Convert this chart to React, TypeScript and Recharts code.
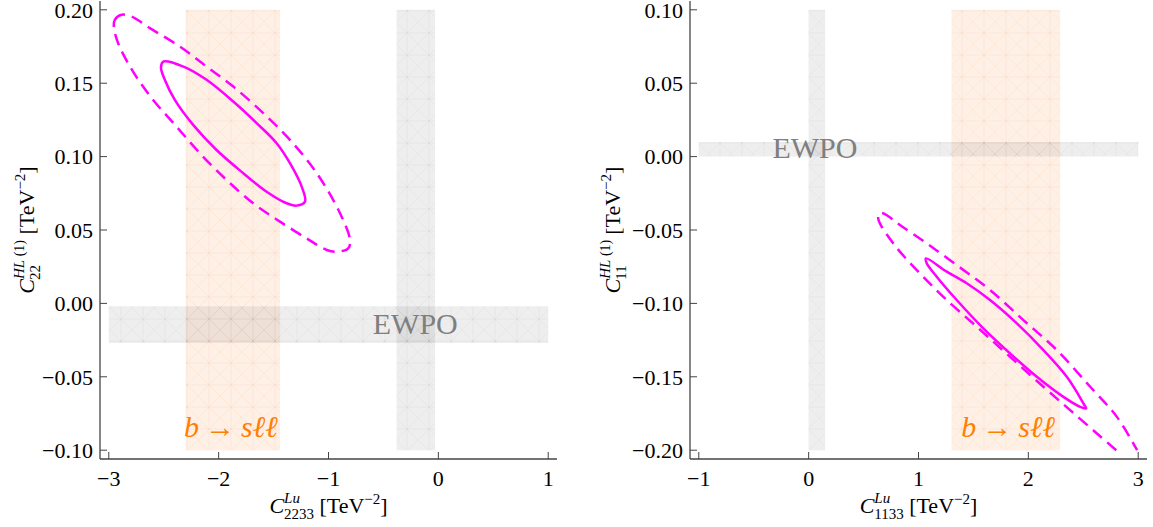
import React from 'react'
import {
  ComposedChart,
  XAxis,
  YAxis,
  Line,
  ReferenceArea,
  ReferenceDot,
  Label,
} from 'recharts'

type Pt = { x: number; y: number }

// left panel: C^{Lu}_{2233} vs C^{HL(1)}_{22}
const leftSolid: Pt[] = [
  { x: -2.5, y: 0.1648 },
  { x: -2.32, y: 0.1613 },
  { x: -2.11, y: 0.1523 },
  { x: -1.867, y: 0.1375 },
  { x: -1.654, y: 0.1228 },
  { x: -1.472, y: 0.1091 },
  { x: -1.351, y: 0.0955 },
  { x: -1.244, y: 0.0795 },
  { x: -1.214, y: 0.0693 },
  { x: -1.29, y: 0.0666 },
  { x: -1.381, y: 0.0682 },
  { x: -1.563, y: 0.0761 },
  { x: -1.776, y: 0.0887 },
  { x: -2.019, y: 0.1045 },
  { x: -2.232, y: 0.1216 },
  { x: -2.399, y: 0.1386 },
  { x: -2.49, y: 0.1523 },
  { x: -2.525, y: 0.161 },
]

const leftDashed: Pt[] = [
  { x: -2.945, y: 0.1932 },
  { x: -2.884, y: 0.1966 },
  { x: -2.793, y: 0.1954 },
  { x: -2.626, y: 0.1875 },
  { x: -2.353, y: 0.175 },
  { x: -2.11, y: 0.1613 },
  { x: -1.867, y: 0.1477 },
  { x: -1.594, y: 0.1296 },
  { x: -1.351, y: 0.1114 },
  { x: -1.107, y: 0.0887 },
  { x: -0.895, y: 0.0614 },
  { x: -0.804, y: 0.0432 },
  { x: -0.82, y: 0.0375 },
  { x: -0.925, y: 0.0352 },
  { x: -1.016, y: 0.0364 },
  { x: -1.199, y: 0.0443 },
  { x: -1.442, y: 0.0557 },
  { x: -1.685, y: 0.0682 },
  { x: -1.928, y: 0.0841 },
  { x: -2.171, y: 0.1023 },
  { x: -2.383, y: 0.1204 },
  { x: -2.596, y: 0.1386 },
  { x: -2.779, y: 0.1579 },
  { x: -2.915, y: 0.1773 },
  { x: -2.954, y: 0.1886 },
]

// right panel: C^{Lu}_{1133} vs C^{HL(1)}_{11}
const rightSolid: Pt[] = [
  { x: 1.068, y: -0.0693 },
  { x: 1.257, y: -0.0784 },
  { x: 1.439, y: -0.0863 },
  { x: 1.651, y: -0.0977 },
  { x: 1.895, y: -0.1136 },
  { x: 2.137, y: -0.1318 },
  { x: 2.35, y: -0.15 },
  { x: 2.502, y: -0.1682 },
  { x: 2.526, y: -0.1716 },
  { x: 2.472, y: -0.1705 },
  { x: 2.319, y: -0.1637 },
  { x: 2.077, y: -0.15 },
  { x: 1.834, y: -0.1341 },
  { x: 1.59, y: -0.117 },
  { x: 1.348, y: -0.0977 },
  { x: 1.166, y: -0.0818 },
  { x: 1.075, y: -0.0727 },
]

// runs off the bottom of the frame, so it is an open curve
const rightDashed: Pt[] = [
  { x: 2.8, y: -0.2 },
  { x: 2.624, y: -0.1886 },
  { x: 2.38, y: -0.1727 },
  { x: 2.137, y: -0.1568 },
  { x: 1.834, y: -0.1364 },
  { x: 1.53, y: -0.1159 },
  { x: 1.226, y: -0.0955 },
  { x: 0.984, y: -0.0773 },
  { x: 0.77, y: -0.0591 },
  { x: 0.634, y: -0.0425 },
  { x: 0.645, y: -0.0385 },
  { x: 0.69, y: -0.039 },
  { x: 0.831, y: -0.0466 },
  { x: 1.075, y: -0.0591 },
  { x: 1.348, y: -0.0739 },
  { x: 1.651, y: -0.0909 },
  { x: 1.955, y: -0.1114 },
  { x: 2.259, y: -0.1318 },
  { x: 2.563, y: -0.1568 },
  { x: 2.806, y: -0.1773 },
  { x: 2.99, y: -0.2 },
]

// constraint bands: [x1, x2, y1, y2]
const leftBsll = [-2.3, -1.44, -0.1, 0.2]
const leftEwpoV = [-0.38, -0.03, -0.1, 0.2]
const leftEwpoH = [-3, 1, -0.027, -0.002]
const rightBsll = [1.3, 2.29, -0.2, 0.1]
const rightEwpoV = [0, 0.15, -0.2, 0.1]
const rightEwpoH = [-1, 3, 0, 0.01]

const leftXTicks = [-3, -2, -1, 0, 1]
const leftXMinor = [
  -3, -2.8, -2.6, -2.4, -2.2, -2, -1.8, -1.6, -1.4, -1.2, -1, -0.8, -0.6, -0.4,
  -0.2, 0, 0.2, 0.4, 0.6, 0.8, 1,
]
const leftYTicks = [-0.1, -0.05, 0, 0.05, 0.1, 0.15, 0.2]
const leftYMinor = [
  -0.1, -0.09, -0.08, -0.07, -0.06, -0.05, -0.04, -0.03, -0.02, -0.01, 0, 0.01,
  0.02, 0.03, 0.04, 0.05, 0.06, 0.07, 0.08, 0.09, 0.1, 0.11, 0.12, 0.13, 0.14,
  0.15, 0.16, 0.17, 0.18, 0.19, 0.2,
]
const rightXTicks = [-1, 0, 1, 2, 3]
const rightXMinor = [
  -1, -0.8, -0.6, -0.4, -0.2, 0, 0.2, 0.4, 0.6, 0.8, 1, 1.2, 1.4, 1.6, 1.8, 2,
  2.2, 2.4, 2.6, 2.8, 3,
]
const rightYTicks = [-0.2, -0.15, -0.1, -0.05, 0, 0.05, 0.1]
const rightYMinor = [
  -0.2, -0.19, -0.18, -0.17, -0.16, -0.15, -0.14, -0.13, -0.12, -0.11, -0.1,
  -0.09, -0.08, -0.07, -0.06, -0.05, -0.04, -0.03, -0.02, -0.01, 0, 0.01, 0.02,
  0.03, 0.04, 0.05, 0.06, 0.07, 0.08, 0.09, 0.1,
]

const SERIF = "'Liberation Serif', 'Times New Roman', serif"
const MAGENTA = '#ff00ff'
const FRAME = '#444444'
const H = 527

const fmtX = (v: number) => (v < 0 ? `\u2212${Math.abs(v)}` : `${v}`)
const fmtY = (v: number) =>
  Math.abs(v) < 1e-9 ? '0.00' : (v < 0 ? '\u2212' : '') + Math.abs(v).toFixed(2)

const XTick = (t: any) => (
  <text
    x={t.x}
    y={t.y}
    dy="0.71em"
    textAnchor="middle"
    fontFamily={SERIF}
    fontSize={22}
    fill="#000"
  >
    {fmtX(t.payload.value)}
  </text>
)

const YTick = (t: any) => (
  <text
    x={t.x}
    y={t.y}
    dy="0.355em"
    textAnchor="end"
    fontFamily={SERIF}
    fontSize={22}
    fill="#000"
  >
    {fmtY(t.payload.value)}
  </text>
)

// centripetal catmull-rom through the read-off points (same maths as d3's curveCatmullRom)
function seg(ctx: any, p0: number[], p1: number[], p2: number[], p3: number[]) {
  const d01 = Math.hypot(p1[0] - p0[0], p1[1] - p0[1])
  const d12 = Math.hypot(p2[0] - p1[0], p2[1] - p1[1])
  const d23 = Math.hypot(p3[0] - p2[0], p3[1] - p2[1])
  const l01 = Math.sqrt(d01)
  const l12 = Math.sqrt(d12)
  const l23 = Math.sqrt(d23)
  let c1x = p1[0]
  let c1y = p1[1]
  let c2x = p2[0]
  let c2y = p2[1]
  if (l01 > 1e-9) {
    const a = 2 * d01 + 3 * l01 * l12 + d12
    const n = 3 * l01 * (l01 + l12)
    c1x = (p1[0] * a - p0[0] * d12 + p2[0] * d01) / n
    c1y = (p1[1] * a - p0[1] * d12 + p2[1] * d01) / n
  }
  if (l23 > 1e-9) {
    const b = 2 * d23 + 3 * l23 * l12 + d12
    const m = 3 * l23 * (l23 + l12)
    c2x = (p2[0] * b + p1[0] * d23 - p3[0] * d12) / m
    c2y = (p2[1] * b + p1[1] * d23 - p3[1] * d12) / m
  }
  ctx.bezierCurveTo(c1x, c1y, c2x, c2y, p2[0], p2[1])
}

const spline = (closed: boolean) => (context: any) => {
  let pts: number[][] = []
  return {
    areaStart() {},
    areaEnd() {},
    lineStart() {
      pts = []
    },
    point(x: number, y: number) {
      pts.push([+x, +y])
    },
    lineEnd() {
      const n = pts.length
      if (!n) return
      const at = (i: number) =>
        closed ? pts[(i + n) % n] : pts[Math.max(0, Math.min(n - 1, i))]
      context.moveTo(pts[0][0], pts[0][1])
      const last = closed ? n : n - 1
      for (let i = 0; i < last; i++) seg(context, at(i - 1), at(i), at(i + 1), at(i + 2))
      if (closed) context.closePath()
    },
  }
}
const closedCurve = spline(true)
const openCurve = spline(false)

function XTitle({ viewBox, sub }: any) {
  const vb = viewBox || { x: 0, y: 0, width: 0 }
  return (
    <text
      x={vb.x + vb.width / 2}
      y={vb.y + 54}
      textAnchor="middle"
      fontFamily={SERIF}
      fontSize={22}
      fill="#000"
    >
      <tspan fontStyle="italic">C</tspan>
      <tspan fontStyle="italic" fontSize={15} dy={-10}>
        Lu
      </tspan>
      <tspan fontSize={15} dx={-16} dy={16}>
        {sub}
      </tspan>
      <tspan dy={-6}>{'\u00a0[TeV'}</tspan>
      <tspan fontSize={15} dy={-9}>
        {'\u22122'}
      </tspan>
      <tspan dy={9}>]</tspan>
    </text>
  )
}

function YTitle({ viewBox, sub, gap }: any) {
  const vb = viewBox || { x: 0, y: 0, width: 0, height: 0 }
  const x = vb.x + vb.width - gap
  const y = vb.y + vb.height / 2
  return (
    <text
      transform={`translate(${x},${y}) rotate(-90)`}
      textAnchor="middle"
      fontFamily={SERIF}
      fontSize={22}
      fill="#000"
    >
      <tspan fontStyle="italic">C</tspan>
      <tspan fontStyle="italic" fontSize={15} dy={-10}>
        HL
      </tspan>
      <tspan fontSize={14}>{'\u00a0(1)'}</tspan>
      <tspan fontSize={15} dx={-40} dy={16}>
        {sub}
      </tspan>
      <tspan dx={25} dy={-6}>
        {'\u00a0[TeV'}
      </tspan>
      <tspan fontSize={15} dy={-9}>
        {'\u22122'}
      </tspan>
      <tspan dy={9}>]</tspan>
    </text>
  )
}

const ewpoText = (p: any) => (
  <text
    x={p.cx}
    y={p.cy}
    textAnchor="middle"
    fontFamily={SERIF}
    fontSize={30}
    fill="#7f7f7f"
  >
    EWPO
  </text>
)

const bsllText = (p: any) => (
  <text
    x={p.cx}
    y={p.cy}
    textAnchor="middle"
    fontFamily={SERIF}
    fontSize={30}
    fill="#ff8000"
  >
    <tspan fontStyle="italic">b</tspan>
    <tspan>{'\u2009\u2192\u2009'}</tspan>
    <tspan fontStyle="italic">{'s\u2113\u2113'}</tspan>
  </text>
)

interface PanelProps {
  id: string
  width: number
  yAxisWidth: number
  marginRight: number
  yTitleGap: number
  xDomain: [number, number]
  yDomain: [number, number]
  xTicks: number[]
  xMinor: number[]
  yTicks: number[]
  yMinor: number[]
  bsll: number[]
  ewpoV: number[]
  ewpoH: number[]
  solid: Pt[]
  dashed: Pt[]
  dashedCurve: any
  xSub: string
  ySub: string
  ewpoAt: Pt
  bsllAt: Pt
}

const lineStyle = { stroke: FRAME, strokeWidth: 1 }
const frameStyle = { stroke: FRAME, strokeWidth: 1.3 }

function Panel(p: PanelProps) {
  const band = (b: number[], fill: string, key: string) => (
    <ReferenceArea
      key={key}
      x1={b[0]}
      x2={b[1]}
      y1={b[2]}
      y2={b[3]}
      fill={fill}
      fillOpacity={1}
      stroke="none"
      ifOverflow="visible"
    />
  )
  return (
    <ComposedChart
      width={p.width}
      height={H}
      margin={{ top: 1, right: p.marginRight, bottom: 0, left: 0 }}
      style={{ fontFamily: SERIF }}
    >
      <defs>
        <pattern id={`${p.id}-or`} patternUnits="userSpaceOnUse" width={22} height={22}>
          <rect width={22} height={22} fill="rgba(255,140,60,0.13)" />
          <path
            d="M0 0L22 22M22 0L0 22M11 0V22M0 11H22"
            stroke="rgba(230,120,40,0.13)"
            strokeWidth={0.6}
            fill="none"
          />
        </pattern>
        <pattern id={`${p.id}-gr`} patternUnits="userSpaceOnUse" width={22} height={22}>
          <rect width={22} height={22} fill="rgba(0,0,0,0.065)" />
          <path
            d="M0 0L22 22M22 0L0 22M11 0V22M0 11H22"
            stroke="rgba(0,0,0,0.05)"
            strokeWidth={0.6}
            fill="none"
          />
        </pattern>
      </defs>

      <XAxis
        type="number"
        dataKey="x"
        domain={p.xDomain}
        allowDataOverflow
        ticks={p.xTicks}
        interval={0}
        height={68}
        tickSize={-7}
        tickMargin={18}
        tick={XTick}
        tickLine={lineStyle}
        axisLine={frameStyle}
      >
        <Label content={(lp: any) => <XTitle {...lp} sub={p.xSub} />} />
      </XAxis>
      <XAxis
        xAxisId="bMinor"
        type="number"
        domain={p.xDomain}
        allowDataOverflow
        ticks={p.xMinor}
        interval={0}
        mirror
        height={0}
        tickSize={4}
        tick={false}
        tickLine={lineStyle}
        axisLine={false}
      />
      <XAxis
        xAxisId="top"
        orientation="top"
        type="number"
        domain={p.xDomain}
        allowDataOverflow
        ticks={p.xTicks}
        interval={0}
        mirror
        height={0}
        tickSize={7}
        tick={false}
        tickLine={lineStyle}
        axisLine={frameStyle}
      />
      <XAxis
        xAxisId="tMinor"
        orientation="top"
        type="number"
        domain={p.xDomain}
        allowDataOverflow
        ticks={p.xMinor}
        interval={0}
        mirror
        height={0}
        tickSize={4}
        tick={false}
        tickLine={lineStyle}
        axisLine={false}
      />

      <YAxis
        type="number"
        dataKey="y"
        domain={p.yDomain}
        allowDataOverflow
        ticks={p.yTicks}
        interval={0}
        width={p.yAxisWidth}
        tickSize={-7}
        tickMargin={14}
        tick={YTick}
        tickLine={lineStyle}
        axisLine={frameStyle}
      >
        <Label content={(lp: any) => <YTitle {...lp} sub={p.ySub} gap={p.yTitleGap} />} />
      </YAxis>
      <YAxis
        yAxisId="lMinor"
        type="number"
        domain={p.yDomain}
        allowDataOverflow
        ticks={p.yMinor}
        interval={0}
        mirror
        width={0}
        tickSize={4}
        tick={false}
        tickLine={lineStyle}
        axisLine={false}
      />
      <YAxis
        yAxisId="right"
        orientation="right"
        type="number"
        domain={p.yDomain}
        allowDataOverflow
        ticks={p.yTicks}
        interval={0}
        mirror
        width={0}
        tickSize={7}
        tick={false}
        tickLine={lineStyle}
        axisLine={frameStyle}
      />
      <YAxis
        yAxisId="rMinor"
        orientation="right"
        type="number"
        domain={p.yDomain}
        allowDataOverflow
        ticks={p.yMinor}
        interval={0}
        mirror
        width={0}
        tickSize={4}
        tick={false}
        tickLine={lineStyle}
        axisLine={false}
      />

      {band(p.bsll, `url(#${p.id}-or)`, 'bsll')}
      {band(p.ewpoV, `url(#${p.id}-gr)`, 'ewpoV')}
      {band(p.ewpoH, `url(#${p.id}-gr)`, 'ewpoH')}

      <Line
        data={p.dashed}
        dataKey="y"
        type={p.dashedCurve}
        stroke={MAGENTA}
        strokeWidth={2.5}
        strokeDasharray="12 7"
        dot={false}
        activeDot={false}
        isAnimationActive={false}
      />
      <Line
        data={p.solid}
        dataKey="y"
        type={closedCurve}
        stroke={MAGENTA}
        strokeWidth={2.5}
        dot={false}
        activeDot={false}
        isAnimationActive={false}
      />

      <ReferenceDot x={p.ewpoAt.x} y={p.ewpoAt.y} r={0} ifOverflow="visible" shape={ewpoText} />
      <ReferenceDot x={p.bsllAt.x} y={p.bsllAt.y} r={0} ifOverflow="visible" shape={bsllText} />
    </ComposedChart>
  )
}

export default function App() {
  return (
    <div
      style={{
        position: 'absolute',
        left: 0,
        top: 0,
        width: 1153,
        height: H,
        background: '#fff',
        fontFamily: SERIF,
      }}
    >
      <div style={{ position: 'absolute', left: 0, top: 0 }}>
        <Panel
          id="l"
          width={577}
          yAxisWidth={100}
          marginRight={20}
          yTitleGap={66}
          xDomain={[-3.08, 1.08]}
          yDomain={[-0.106, 0.206]}
          xTicks={leftXTicks}
          xMinor={leftXMinor}
          yTicks={leftYTicks}
          yMinor={leftYMinor}
          bsll={leftBsll}
          ewpoV={leftEwpoV}
          ewpoH={leftEwpoH}
          solid={leftSolid}
          dashed={leftDashed}
          dashedCurve={closedCurve}
          xSub="2233"
          ySub="22"
          ewpoAt={{ x: -0.21, y: -0.0209 }}
          bsllAt={{ x: -1.888, y: -0.0911 }}
        />
      </div>
      <div style={{ position: 'absolute', left: 577, top: 0 }}>
        <Panel
          id="r"
          width={576}
          yAxisWidth={113}
          marginRight={6}
          yTitleGap={70}
          xDomain={[-1.08, 3.08]}
          yDomain={[-0.206, 0.106]}
          xTicks={rightXTicks}
          xMinor={rightXMinor}
          yTicks={rightYTicks}
          yMinor={rightYMinor}
          bsll={rightBsll}
          ewpoV={rightEwpoV}
          ewpoH={rightEwpoH}
          solid={rightSolid}
          dashed={rightDashed}
          dashedCurve={openCurve}
          xSub="1133"
          ySub="11"
          ewpoAt={{ x: 0.057, y: -0.0009 }}
          bsllAt={{ x: 1.816, y: -0.191 }}
        />
      </div>
    </div>
  )
}
